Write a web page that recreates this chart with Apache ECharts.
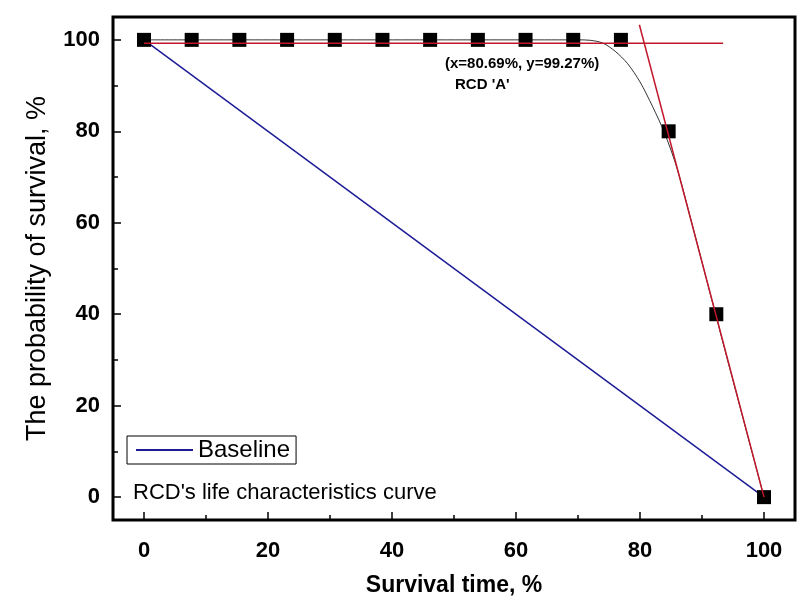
<!DOCTYPE html>
<html>
<head>
<meta charset="utf-8">
<script src="https://cdn.jsdelivr.net/npm/echarts@6/dist/echarts.min.js"></script>
<style>html,body{margin:0;padding:0;background:#fff;}#c{width:811px;height:615px;}</style>
</head>
<body>
<div id="c"></div>
<script>
// ---- data ----
var survivalTime = [0, 7.69, 15.38, 23.08, 30.77, 38.46, 46.15, 53.85, 61.54, 69.23, 76.92, 84.62, 92.31, 100];
var survivalProb = [100, 100, 100, 100, 100, 100, 100, 100, 100, 100, 100, 80, 40, 0];
var baselineX = [0, 100];
var baselineY = [100, 0];
var fitCurveX = [0, 70, 72, 74, 76, 78, 80, 82, 84, 86, 88, 90, 92, 94, 96, 98, 100];
var fitCurveY = [100, 100, 99.9, 99.3, 97.5, 94.8, 90.8, 85.5, 79.5, 71.8, 61.8, 51.4, 41, 30.6, 20.4, 10.2, 0];
var plateauX = [0, 93.4];
var plateauY = [99.27, 99.27];
var dropX = [79.9, 100];
var dropY = [103.3, 0];
var cornerPoint = [80.69, 99.27];
var majorTicks = [0, 20, 40, 60, 80, 100];
var minorTicks = [10, 30, 50, 70, 90];
var xTitle = 'Survival time, %';
var yTitle = 'The probability of survival, %';
var legendName = 'Baseline';
var noteText = "RCD's life characteristics curve";
var pointLabel = "RCD 'A'";

function zip(a, b) { return a.map(function (v, i) { return [v, b[i]]; }); }

var FONT = "'Liberation Sans', Arial, sans-serif";
var chart = echarts.init(document.getElementById('c'), null, { renderer: 'canvas' });

function mainAxis(isX) {
  return {
    type: 'value', min: -5, max: 105,
    position: isX ? 'bottom' : 'left',
    axisLine: { show: false, onZero: false },
    splitLine: { show: false },
    axisTick: { show: true, inside: true, length: 8, customValues: majorTicks, lineStyle: { color: '#000', width: 1.5 } },
    axisLabel: {
      customValues: majorTicks, margin: isX ? 20 : 13,
      color: '#000', fontFamily: FONT, fontWeight: 'bold', fontSize: 22
    },
    name: isX ? xTitle : yTitle,
    nameLocation: 'middle',
    nameGap: isX ? 54 : 62,
    nameTextStyle: isX
      ? { color: '#000', fontFamily: FONT, fontWeight: 'bold', fontSize: 23 }
      : { color: '#000', fontFamily: FONT, fontSize: 27 }
  };
}
function minorAxis(isX) {
  return {
    type: 'value', min: -5, max: 105,
    position: isX ? 'bottom' : 'left',
    axisLine: { show: false, onZero: false },
    splitLine: { show: false },
    axisTick: { show: true, inside: true, length: 5, customValues: minorTicks, lineStyle: { color: '#000', width: 1.5 } },
    axisLabel: { show: false }
  };
}

var option = {
  backgroundColor: '#fff',
  animation: false,
  grid: { left: 113, right: 16, top: 17, bottom: 95, show: true, borderColor: '#000', borderWidth: 3, containLabel: false },
  xAxis: [mainAxis(true), minorAxis(true)],
  yAxis: [mainAxis(false), minorAxis(false)],
  legend: {
    data: [{ name: legendName, icon: 'rect' }],
    left: 127, top: 436,
    orient: 'horizontal',
    borderColor: '#000', borderWidth: 1,
    padding: [2, 6, 2, 9],
    itemWidth: 57, itemHeight: 2,
    textStyle: { color: '#000', fontFamily: FONT, fontSize: 24 }
  },
  series: [
    {
      name: legendName, type: 'line', data: zip(baselineX, baselineY),
      symbol: 'none', lineStyle: { color: '#1c1c96', width: 1.5 }, itemStyle: { color: '#1c1c96' }, z: 2
    },
    {
      name: 'data', type: 'scatter', data: zip(survivalTime, survivalProb),
      symbol: 'rect', symbolSize: 14, itemStyle: { color: '#000', opacity: 1 }, z: 3
    },
    {
      name: 'fit', type: 'line', data: zip(fitCurveX, fitCurveY), smooth: 0.3,
      symbol: 'none', lineStyle: { color: '#000', width: 0.8 }, z: 4
    },
    {
      name: 'plateau', type: 'line', data: zip(plateauX, plateauY),
      symbol: 'none', lineStyle: { color: '#c0182a', width: 1.5 }, z: 5
    },
    {
      name: 'drop', type: 'line', data: zip(dropX, dropY),
      symbol: 'none', lineStyle: { color: '#c0182a', width: 1.5 }, z: 5
    }
  ],
  graphic: [
    { type: 'text', left: 133, top: 482, style: { text: noteText, fill: '#000', font: '22px ' + FONT } },
    { type: 'text', left: 445, top: 56, style: { text: '(x=' + cornerPoint[0].toFixed(2) + '%, y=' + cornerPoint[1].toFixed(2) + '%)', fill: '#000', font: 'bold 15px ' + FONT } },
    { type: 'text', left: 455, top: 77, style: { text: pointLabel, fill: '#000', font: 'bold 15px ' + FONT } }
  ]
};
chart.setOption(option);
</script>
</body>
</html>
